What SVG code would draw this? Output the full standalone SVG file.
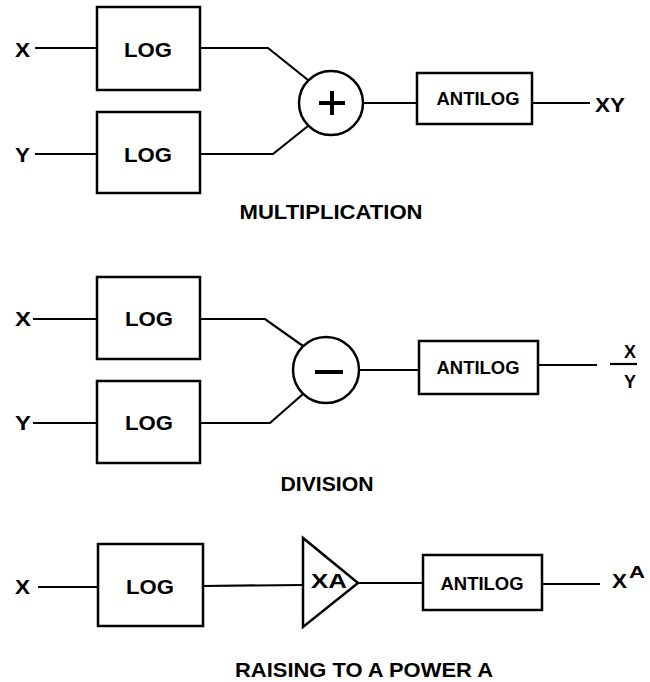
<svg xmlns="http://www.w3.org/2000/svg" width="650" height="682" viewBox="0 0 650 682">
<style>
  .box{fill:#fff;stroke:#000;stroke-width:2.5}
  .ln{fill:none;stroke:#000;stroke-width:2.2}
  .sgn{fill:none;stroke:#000;stroke-width:4}
  text{font-family:"Liberation Sans",Arial,Helvetica,sans-serif;font-weight:bold;fill:#000}
  .lbl{font-size:20px}
  .blk{font-size:20px;text-anchor:middle}
  .anti{font-size:18px;text-anchor:middle}
  .cap{font-size:20px;text-anchor:middle}
</style>
<rect width="650" height="682" fill="#fff"/>
<g id="connectors">
  <!-- multiplication -->
  <line class="ln" x1="35" y1="48" x2="97" y2="48"/>
  <line class="ln" x1="35" y1="154" x2="97" y2="154"/>
  <polyline class="ln" points="200,48 268,48 308,80"/>
  <polyline class="ln" points="200,154 273,154 308,126"/>
  <line class="ln" x1="363" y1="103" x2="417" y2="103"/>
  <line class="ln" x1="532" y1="103" x2="590" y2="103"/>
  <!-- division -->
  <line class="ln" x1="33" y1="319" x2="97" y2="319"/>
  <line class="ln" x1="33" y1="423" x2="97" y2="423"/>
  <polyline class="ln" points="200,319 265,319 303,346"/>
  <polyline class="ln" points="200,423 270,423 303,394"/>
  <line class="ln" x1="359" y1="370" x2="419" y2="370"/>
  <line class="ln" x1="538" y1="365" x2="597" y2="365"/>
  <!-- power -->
  <line class="ln" x1="38" y1="587" x2="98" y2="587"/>
  <line class="ln" x1="203" y1="586" x2="303" y2="585"/>
  <line class="ln" x1="358" y1="583" x2="423" y2="583"/>
  <line class="ln" x1="542" y1="584" x2="600" y2="584"/>
</g>
<g id="mult-log-x">
  <rect class="box" x="97" y="7" width="103" height="83"/>
  <text class="blk" x="148" y="57" textLength="48" lengthAdjust="spacingAndGlyphs">LOG</text>
</g>
<g id="mult-log-y">
  <rect class="box" x="97" y="112" width="103" height="81"/>
  <text class="blk" x="148" y="162" textLength="48" lengthAdjust="spacingAndGlyphs">LOG</text>
</g>
<g id="mult-sum">
  <circle class="box" cx="331" cy="103" r="32"/>
  <line class="sgn" x1="319" y1="103" x2="345" y2="103"/>
  <line class="sgn" x1="332" y1="91" x2="332" y2="115"/>
</g>
<g id="mult-antilog">
  <rect class="box" x="417" y="73" width="115" height="51"/>
  <text class="anti" x="478" y="105" textLength="83" lengthAdjust="spacingAndGlyphs">ANTILOG</text>
</g>
<g id="mult-labels">
  <text class="lbl" x="15" y="57" textLength="15" lengthAdjust="spacingAndGlyphs">X</text>
  <text class="lbl" x="15" y="162" textLength="15" lengthAdjust="spacingAndGlyphs">Y</text>
  <text class="lbl" x="595" y="112" textLength="30" lengthAdjust="spacingAndGlyphs">XY</text>
  <text class="cap" x="331" y="219" textLength="183" lengthAdjust="spacingAndGlyphs">MULTIPLICATION</text>
</g>
<g id="div-log-x">
  <rect class="box" x="97" y="277" width="103" height="82"/>
  <text class="blk" x="149" y="326" textLength="48" lengthAdjust="spacingAndGlyphs">LOG</text>
</g>
<g id="div-log-y">
  <rect class="box" x="97" y="381" width="103" height="82"/>
  <text class="blk" x="149" y="430" textLength="48" lengthAdjust="spacingAndGlyphs">LOG</text>
</g>
<g id="div-diff">
  <circle class="box" cx="326" cy="370" r="33"/>
  <line class="sgn" x1="315" y1="372" x2="343" y2="372"/>
</g>
<g id="div-antilog">
  <rect class="box" x="419" y="341" width="119" height="53"/>
  <text class="anti" x="478" y="374" textLength="83" lengthAdjust="spacingAndGlyphs">ANTILOG</text>
</g>
<g id="div-labels">
  <text class="lbl" x="15" y="326" textLength="16" lengthAdjust="spacingAndGlyphs">X</text>
  <text class="lbl" x="15" y="430" textLength="16" lengthAdjust="spacingAndGlyphs">Y</text>
  <line class="ln" x1="610" y1="364" x2="637" y2="364"/>
  <text style="font-size:18px;text-anchor:middle" x="630" y="358">X</text>
  <text style="font-size:18px;text-anchor:middle" x="630" y="388">Y</text>
  <text class="cap" x="327" y="491" textLength="93" lengthAdjust="spacingAndGlyphs">DIVISION</text>
</g>
<g id="pow-log">
  <rect class="box" x="98" y="544" width="105" height="82"/>
  <text class="blk" x="150" y="594" textLength="48" lengthAdjust="spacingAndGlyphs">LOG</text>
</g>
<g id="pow-gain">
  <polygon class="box" points="303,538 303,627 358,583"/>
  <text class="blk" x="329" y="588" textLength="36" lengthAdjust="spacingAndGlyphs">XA</text>
</g>
<g id="pow-antilog">
  <rect class="box" x="423" y="555" width="119" height="55"/>
  <text class="anti" x="482" y="590" textLength="83" lengthAdjust="spacingAndGlyphs">ANTILOG</text>
</g>
<g id="pow-labels">
  <text class="lbl" x="15" y="594" textLength="15" lengthAdjust="spacingAndGlyphs">X</text>
  <text class="lbl" x="612" y="588" textLength="15" lengthAdjust="spacingAndGlyphs">X</text>
  <text style="font-size:16px" x="629" y="578" textLength="16" lengthAdjust="spacingAndGlyphs">A</text>
  <text class="cap" x="364" y="677" textLength="258" lengthAdjust="spacingAndGlyphs">RAISING TO A POWER A</text>
</g>
</svg>
